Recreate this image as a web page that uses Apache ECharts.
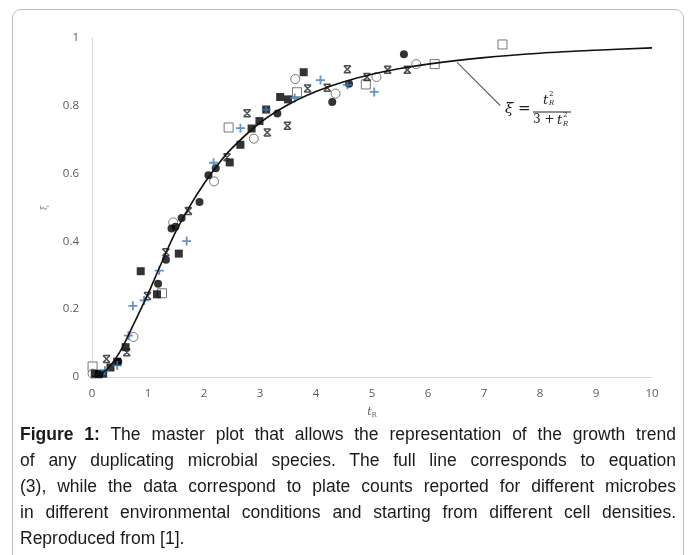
<!DOCTYPE html>
<html><head><meta charset="utf-8">
<script src="https://cdn.jsdelivr.net/npm/echarts@6/dist/echarts.min.js"></script>
<style>
html,body{margin:0;padding:0;background:#fff;}
body{width:694px;height:555px;overflow:hidden;position:relative;}
#frame{position:absolute;left:12px;top:9px;width:670px;height:620px;border:1px solid #bdbdbd;border-radius:9px;}
#chart{position:absolute;left:0;top:0;width:694px;height:424px;}
#cap{position:absolute;left:20px;top:421px;width:656px;font-family:"Liberation Sans",Arial,sans-serif;font-size:17.5px;line-height:26px;color:#1a1a1a;}
#cap div{text-align:justify;text-align-last:justify;white-space:nowrap;}
#cap div.last{text-align-last:left;}
</style></head>
<body>
<div id="frame"></div>
<div id="chart"></div>
<div id="cap">
<div><b>Figure 1:</b> The master plot that allows the representation of the growth trend</div>
<div>of any duplicating microbial species. The full line corresponds to equation</div>
<div>(3), while the data correspond to plate counts reported for different microbes</div>
<div>in different environmental conditions and starting from different cell densities.</div>
<div class="last">Reproduced from [1].</div>
</div>
<script>
// Tick labels
const xTicks = [0,1,2,3,4,5,6,7,8,9,10];
const yTicks = [0,0.2,0.4,0.6,0.8,1];

// Curve ξ = t²/(3+t²)
const tCurve  = [0,0.25,0.5,0.75,1,1.25,1.5,1.75,2,2.25,2.5,3,3.5,4,4.5,5,5.5,6,7,8,9,10];
const xiCurve = [0,0.02,0.075,0.158,0.245,0.34,0.43,0.505,0.57,0.627,0.675,0.75,0.803,0.842,0.871,0.893,0.91,0.923,0.942,0.955,0.964,0.971];

// Data series
const filledCircles = [[0.47,0.045],[1.18,0.275],[1.32,0.346],[1.42,0.438],[1.49,0.443],[1.60,0.469],[1.92,0.516],[2.08,0.595],[2.21,0.616],[3.31,0.777],[4.29,0.811],[4.59,0.865],[5.57,0.952]];
const openCircles = [[0.01,0.01],[0.74,0.118],[1.45,0.456],[2.18,0.577],[2.89,0.703],[3.63,0.879],[4.35,0.836],[5.08,0.885],[5.79,0.923]];
const filledSquares = [[0.05,0.01],[0.12,0.008],[0.2,0.01],[0.33,0.028],[0.45,0.045],[0.6,0.088],[0.87,0.312],[1.16,0.244],[1.55,0.364],[2.46,0.633],[2.65,0.685],[2.85,0.733],[2.99,0.755],[3.11,0.789],[3.36,0.826],[3.50,0.819],[3.78,0.899]];
const openSquares = [[0.01,0.031],[1.25,0.247],[2.44,0.736],[3.66,0.84],[4.89,0.863],[6.12,0.923],[7.33,0.981]];
const bluePlus = [[0.23,0.019],[0.45,0.034],[0.65,0.122],[0.73,0.21],[0.93,0.226],[1.2,0.314],[1.69,0.401],[2.17,0.632],[2.65,0.734],[3.11,0.789],[3.62,0.823],[4.08,0.876],[4.56,0.862],[5.04,0.841]];
const stars = [[0.26,0.053],[0.62,0.073],[0.99,0.239],[1.32,0.368],[1.72,0.49],[2.41,0.648],[2.77,0.778],[3.13,0.721],[3.49,0.741],[3.85,0.851],[4.2,0.853],[4.56,0.908],[4.91,0.885],[5.28,0.906],[5.63,0.906]];

// Leader line of the equation (data coordinates)
const leader = [[6.52,0.928],[7.29,0.801]];

const chart = echarts.init(document.getElementById('chart'), null, {renderer:'canvas'});
const serif = '"DejaVu Serif","Liberation Serif",serif';
const grey = '#595959';

chart.setOption({
  animation:false,
  grid:{left:92,right:42,top:38,bottom:44,containLabel:false},
  xAxis:{type:'value',min:0,max:10,interval:1,
    name:'{t|t}{s|R}',nameLocation:'middle',nameGap:29,
    nameTextStyle:{rich:{t:{fontFamily:serif,fontStyle:'italic',fontSize:11,color:grey},s:{fontFamily:serif,fontSize:7,color:grey,verticalAlign:'bottom',padding:[6,0,0,0]}}},
    axisLine:{lineStyle:{color:'#d9d9d9',width:1}},axisTick:{show:false},splitLine:{show:false},
    axisLabel:{color:grey,fontSize:11.5,margin:11,fontFamily:'"Open Sans","Liberation Sans",sans-serif',
      formatter:v=>xTicks.includes(v)?String(v):''}},
  yAxis:{type:'value',min:0,max:1,interval:0.2,
    name:'ξ',nameLocation:'middle',nameGap:43,nameRotate:90,
    nameTextStyle:{fontFamily:serif,fontSize:9,color:'#888'},
    axisLine:{show:true,lineStyle:{color:'#d9d9d9',width:1}},axisTick:{show:false},splitLine:{show:false},
    axisLabel:{color:grey,fontSize:11.5,margin:13,fontFamily:'"Open Sans","Liberation Sans",sans-serif',
      formatter:v=>{const t=yTicks.find(k=>Math.abs(k-v)<1e-9);return t===undefined?'':String(t);}}},
  series:[
    {type:'scatter',data:openSquares,symbol:'rect',symbolSize:9,itemStyle:{color:'#fff',borderColor:'#555',borderWidth:1},z:3},
    {type:'scatter',data:openCircles,symbol:'circle',symbolSize:9,itemStyle:{color:'#fff',borderColor:'#555',borderWidth:1},z:3},
    {type:'scatter',data:filledSquares,symbol:'rect',symbolSize:8,itemStyle:{color:'#000'},z:3},
    {type:'scatter',data:filledCircles,symbol:'circle',symbolSize:8,itemStyle:{color:'#000'},z:3},
    {type:'scatter',data:stars,symbol:'path://M0,0L10,0M0,10L10,10M0,0L10,10M10,0L0,10',symbolSize:[7,7],
      itemStyle:{color:'transparent',borderColor:'#222',borderWidth:1.5},z:4},
    {type:'scatter',data:bluePlus,symbol:'path://M5,0L5,10M0,5L10,5',symbolSize:9,
      itemStyle:{color:'transparent',borderColor:'#3d78bd',borderWidth:1.8},z:4},
    {type:'line',data:tCurve.map((t,i)=>[t,xiCurve[i]]),smooth:0.35,showSymbol:false,symbol:'none',
      lineStyle:{color:'#111',width:1.6},z:5,
      markLine:{silent:true,symbol:['none','none'],label:{show:false},lineStyle:{color:'#666',width:1.2,type:'solid'},
        data:[[{coord:leader[0]},{coord:leader[1]}]]}}
  ],
  graphic:[
    {type:'text',left:505,top:102,style:{text:'ξ =',fontFamily:serif,fontStyle:'italic',fontSize:15,fill:'#222'}},
    {type:'text',left:543,top:94,style:{text:'t',fontFamily:serif,fontStyle:'italic',fontSize:13,fill:'#222'}},
    {type:'text',left:549,top:91,style:{text:'2',fontFamily:serif,fontSize:7,fill:'#222'}},
    {type:'text',left:549,top:100,style:{text:'R',fontFamily:serif,fontStyle:'italic',fontSize:7,fill:'#222'}},
    {type:'line',shape:{x1:533,y1:112,x2:571,y2:112},style:{stroke:'#222',lineWidth:1}},
    {type:'text',left:533,top:114,style:{text:'3 + ',fontFamily:serif,fontSize:12,fill:'#222'}},
    {type:'text',left:557,top:114,style:{text:'t',fontFamily:serif,fontStyle:'italic',fontSize:13,fill:'#222'}},
    {type:'text',left:563,top:112,style:{text:'2',fontFamily:serif,fontSize:7,fill:'#222'}},
    {type:'text',left:563,top:121,style:{text:'R',fontFamily:serif,fontStyle:'italic',fontSize:7,fill:'#222'}}
  ]
});
</script>
</body></html>
